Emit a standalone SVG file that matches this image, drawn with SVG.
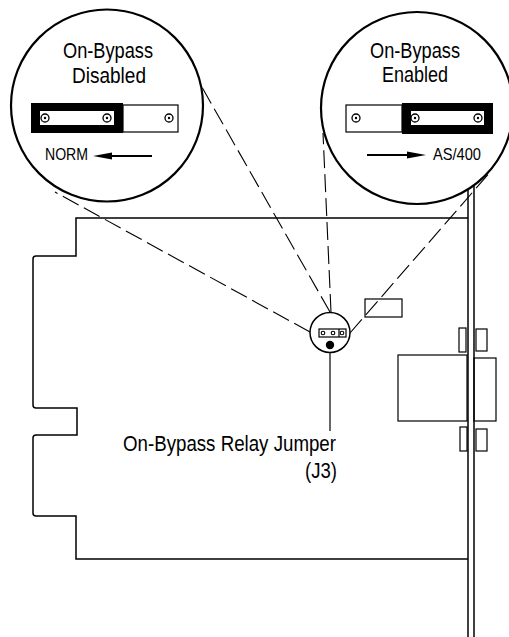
<svg xmlns="http://www.w3.org/2000/svg" width="509" height="637" viewBox="0 0 509 637">
<style>
.ln{fill:none;stroke:#000;stroke-width:1.5}
.thin{fill:none;stroke:#000;stroke-width:1.2}
.dash{fill:none;stroke:#000;stroke-width:1.1;stroke-dasharray:18 6}
.big{fill:#fff;stroke:#000;stroke-width:2.2}
.pin{fill:#fff;stroke:#000;stroke-width:1.3}
.dot{fill:#000}
.t{font-family:"Liberation Sans Narrow","Liberation Sans",Arial,sans-serif;fill:#000}
.title{font-size:22px;text-anchor:middle}
.small{font-size:17px}
.lab{font-size:22px}
</style>
<defs>
<g id="pinA"><circle r="4" class="pin"/><circle r="1.2" class="dot"/></g>
</defs>
<rect width="509" height="637" fill="#fff"/>
<g id="board">
<path class="ln" d="M468 218H76V256H36Q33 256 33 259V405Q33 408 36 408H77V435H36Q33 435 33 438V513Q33 516 36 516H76V559H468"/>
<line class="ln" x1="468" y1="180" x2="468" y2="637"/>
<line class="ln" x1="474" y1="180" x2="474" y2="637"/>
<rect class="thin" x="365" y="299" width="37" height="18"/>
</g>
<g id="connector-port">
<rect class="thin" x="398" y="355" width="69" height="66"/>
<rect class="thin" x="474" y="358" width="22" height="63"/>
<rect class="thin" x="459" y="328" width="7" height="24"/>
<rect class="thin" x="476" y="329" width="11" height="22"/>
<rect class="thin" x="460" y="427" width="7" height="24"/>
<rect class="thin" x="476" y="429" width="11" height="22"/>
</g>
<g id="connectors">
<line class="dash" x1="310" y1="332" x2="55" y2="192"/>
<line class="dash" x1="330" y1="312" x2="195" y2="75"/>
<line class="dash" x1="331" y1="312" x2="323" y2="133"/>
<line class="dash" x1="350" y1="333" x2="492" y2="170"/>
<line class="thin" x1="330" y1="345" x2="330" y2="431"/>
</g>
<g id="jumper-j3">
<circle class="big" cx="330" cy="332.5" r="20" style="stroke-width:1.5"/>
<rect class="thin" x="319" y="329" width="27" height="8"/>
<line class="thin" x1="339" y1="329" x2="339" y2="337"/>
<circle class="pin" cx="323" cy="333" r="1.8" style="stroke-width:1.1"/>
<circle class="pin" cx="333" cy="333" r="1.8" style="stroke-width:1.1"/>
<circle class="pin" cx="342" cy="333" r="1.8" style="stroke-width:1.1"/>
<circle class="dot" cx="330" cy="345" r="4.2"/>
</g>
<g id="detail-disabled">
<circle class="big" cx="107" cy="105.5" r="96"/>
<text class="t title" x="108" y="58" textLength="90" lengthAdjust="spacingAndGlyphs">On-Bypass</text>
<text class="t title" x="109" y="83" textLength="74" lengthAdjust="spacingAndGlyphs">Disabled</text>
<rect x="31" y="103" width="92" height="30" fill="#000"/>
<rect x="40" y="111" width="74" height="14" fill="#fff"/>
<rect class="thin" x="123" y="105" width="55" height="27"/>
<use href="#pinA" x="45" y="118"/>
<use href="#pinA" x="107" y="118"/>
<use href="#pinA" x="169" y="118"/>
<text class="t small" x="45" y="160" textLength="43" lengthAdjust="spacingAndGlyphs">NORM</text>
<line x1="152" y1="156" x2="108" y2="156" stroke="#000" stroke-width="2"/>
<path d="M93 156L112 152.5V159.5Z" fill="#000"/>
</g>
<g id="detail-enabled">
<circle class="big" cx="417" cy="108" r="96"/>
<text class="t title" x="415" y="58" textLength="90" lengthAdjust="spacingAndGlyphs">On-Bypass</text>
<text class="t title" x="415" y="82" textLength="66" lengthAdjust="spacingAndGlyphs">Enabled</text>
<rect class="thin" x="346" y="105" width="56" height="27"/>
<rect x="402" y="103" width="91" height="31" fill="#000"/>
<rect x="411" y="111" width="73" height="14" fill="#fff"/>
<use href="#pinA" x="356" y="118"/>
<use href="#pinA" x="415" y="118"/>
<use href="#pinA" x="478" y="118"/>
<line x1="367" y1="155" x2="411" y2="155" stroke="#000" stroke-width="2"/>
<path d="M426 155L407 151.5V158.5Z" fill="#000"/>
<text class="t small" x="433" y="160" textLength="48" lengthAdjust="spacingAndGlyphs">AS/400</text>
</g>
<g id="label-j3">
<text class="t lab" x="123" y="451" textLength="213" lengthAdjust="spacingAndGlyphs">On-Bypass Relay Jumper</text>
<text class="t lab" x="305" y="478" textLength="32" lengthAdjust="spacingAndGlyphs">(J3)</text>
</g>
</svg>
